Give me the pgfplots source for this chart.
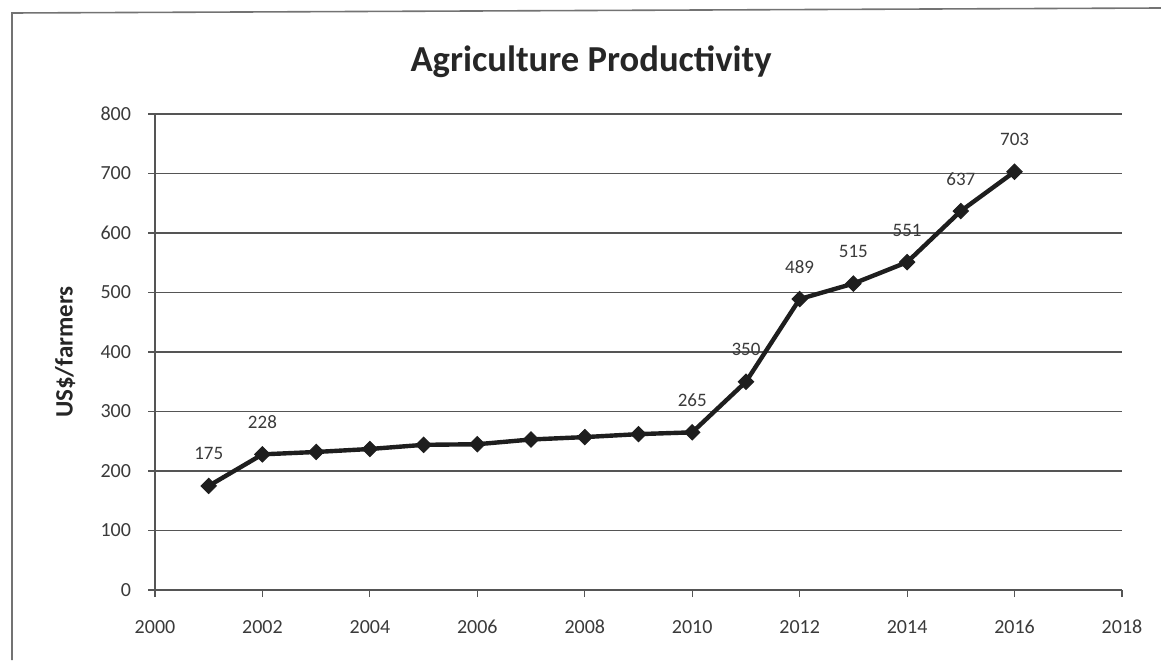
\documentclass[border=0pt]{standalone}
\usepackage{pgfplots}
\pgfplotsset{compat=1.18}
\usepackage{fontspec}
\setmainfont{Carlito}

\definecolor{ink}{HTML}{1E1E1E}
\definecolor{gridgray}{HTML}{555555}
\definecolor{textgray}{HTML}{3A3A3A}

\begin{document}
\begin{tikzpicture}
\useasboundingbox (-77.5pt,-35pt) rectangle (503pt,295pt);
% chart frame (left and top edges)
\draw[black!55, line width=0.8pt] (-71.5pt,-35pt) -- (-71.5pt,288.5pt) -- (503pt,291pt);
\begin{axis}[
  at={(0,0)}, anchor=south west,
  scale only axis, width=483.5pt, height=238pt,
  xmin=2000, xmax=2018, ymin=0, ymax=800,
  xtick={2000,2002,...,2018}, ytick={0,100,...,800},
  axis lines*=left,
  axis line style={gridgray, line width=0.8pt},
  tick align=outside, major tick length=3.5pt,
  tick style={gridgray, line width=0.6pt},
  ymajorgrids, grid style={gridgray, line width=0.8pt},
  /pgf/number format/assume math mode=true,
  /pgf/number format/1000 sep={},
  tick label style={font=\fontsize{10}{12}\selectfont, text=textgray},
  xticklabel style={yshift=-8pt},
  yticklabel style={xshift=-5pt},
  title={\textbf{Agriculture Productivity}},
  title style={at={(axis description cs:0.451,1.113)}, anchor=center,
    yshift=-6.5pt, font=\fontsize{18.3}{21}\selectfont, text=black!85},
  ylabel={\textbf{US\$/farmers}},
  ylabel style={at={(axis description cs:-0.093,0.5)}, anchor=center,
    font=\fontsize{12.5}{14}\selectfont, text=black!85},
  clip=false,
]
% productivity series
\addplot[ink, line width=2.2pt, mark=square*, mark size=2.7pt,
  mark options={rotate=45, fill=ink, draw=ink, line width=0.5pt}]
  coordinates {
    (2001,175) (2002,228) (2003,232) (2004,237) (2005,244) (2006,245)
    (2007,253) (2008,257) (2009,262) (2010,265) (2011,350) (2012,489)
    (2013,515) (2014,551) (2015,637) (2016,703)
  };
% data labels for the annotated years
\addplot[draw=none, mark=none,
  nodes near coords={\pgfmathprintnumber[assume math mode=true]{\pgfplotspointmeta}},
  nodes near coords style={anchor=center, yshift=16pt,
    font=\fontsize{9.5}{11}\selectfont, text=textgray}]
  coordinates {
    (2001,175) (2002,228) (2010,265) (2011,350) (2012,489)
    (2013,515) (2014,551) (2015,637) (2016,703)
  };
\end{axis}
\end{tikzpicture}
\end{document}
